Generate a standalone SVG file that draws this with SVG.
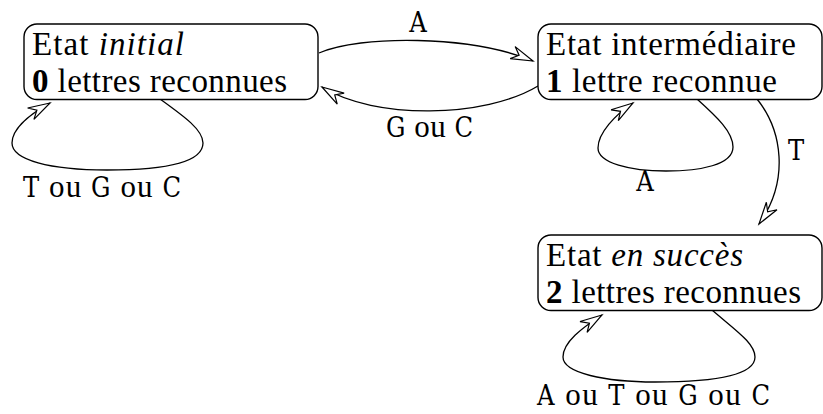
<svg xmlns="http://www.w3.org/2000/svg" width="823" height="414" viewBox="0 0 823 414">
<style>
  .box { fill: #fff; stroke: #000; stroke-width: 1.4; }
  .t { font-family: "Liberation Serif", "Times New Roman", serif; font-size: 33px; fill: #000; }
  .lbl { font-family: "Liberation Serif", "Times New Roman", serif; font-size: 31px; fill: #000; }
  .tt { font-family: "DejaVu Serif Condensed", "DejaVu Serif", serif; font-stretch: condensed; font-size: 27px; }
  .b { font-weight: bold; }
  .i { font-style: italic; }
  .edge { fill: none; stroke: #000; stroke-width: 1.3; marker-end: url(#arr); }
</style>
<defs>
  <marker id="arr" markerUnits="userSpaceOnUse" orient="auto" refX="0" refY="0" markerWidth="30" markerHeight="20" overflow="visible">
    <path d="M0,0 L-22,-6.5 L-15,0 L-22,6.5 Z" fill="#fff" stroke="#000" stroke-width="1.2" stroke-linejoin="miter"/>
  </marker>
</defs>
<g id="connectors">
  <path class="edge" d="M319,53 C360,35 470,35 533,61"/>
  <path class="edge" d="M538,86 C485,118 375,120 322,87"/>
  <path class="edge" d="M160,99 C185,117 203,130 203,143 C203,163 165,170 107,170 C50,170 12,160 12,143 C12,128 32,113 50,103"/>
  <path class="edge" d="M697,99 C717,117 733,132 733,147 C733,165 700,171 666,171 C630,171 598,163 598,148 C598,133 615,115 633,103"/>
  <path class="edge" d="M712,310 C735,330 755,343 755,357 C755,378 700,382 655,382 C605,382 563,373 563,357 C563,342 582,328 602,315"/>
  <path class="edge" d="M757,99 C782,130 790,180 759,224"/>
  <text class="lbl tt" x="418" y="32" text-anchor="middle">A</text>
  <text class="lbl" x="386" y="137" textLength="87" lengthAdjust="spacing"><tspan class="tt">G</tspan> ou <tspan class="tt">C</tspan></text>
  <text class="lbl" x="23" y="197" textLength="158" lengthAdjust="spacing"><tspan class="tt">T</tspan> ou <tspan class="tt">G</tspan> ou <tspan class="tt">C</tspan></text>
  <text class="lbl tt" x="645" y="191" text-anchor="middle">A</text>
  <text class="lbl tt" x="796" y="160" text-anchor="middle">T</text>
  <text class="lbl" x="537" y="405" textLength="233" lengthAdjust="spacing"><tspan class="tt">A</tspan> ou <tspan class="tt">T</tspan> ou <tspan class="tt">G</tspan> ou <tspan class="tt">C</tspan></text>
</g>
<g id="initial">
  <rect class="box" x="24" y="24" width="294" height="75.5" rx="13"/>
  <text class="t" x="32" y="55" textLength="152" lengthAdjust="spacing">Etat <tspan class="i">initial</tspan></text>
  <text class="t" x="32" y="91.5" textLength="255" lengthAdjust="spacing"><tspan class="b">0</tspan> lettres reconnues</text>
</g>
<g id="intermediaire">
  <rect class="box" x="538" y="24" width="284" height="75.5" rx="13"/>
  <text class="t" x="546" y="55" textLength="250" lengthAdjust="spacing">Etat intermédiaire</text>
  <text class="t" x="546" y="91.5" textLength="231" lengthAdjust="spacing"><tspan class="b">1</tspan> lettre reconnue</text>
</g>
<g id="succes">
  <rect class="box" x="538" y="235" width="284" height="75.5" rx="13"/>
  <text class="t" x="546" y="266" textLength="197" lengthAdjust="spacing">Etat <tspan class="i">en succès</tspan></text>
  <text class="t" x="546" y="302.5" textLength="255" lengthAdjust="spacing"><tspan class="b">2</tspan> lettres reconnues</text>
</g>
</svg>
